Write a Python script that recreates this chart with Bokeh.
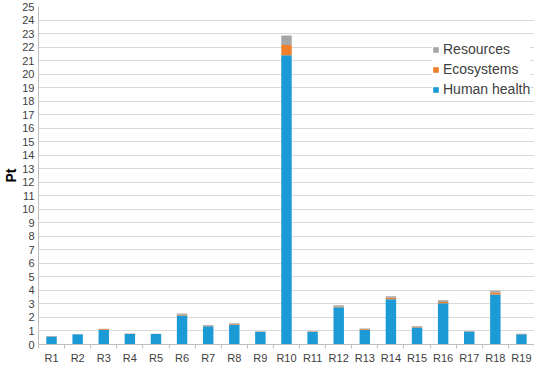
from bokeh.plotting import figure
from bokeh.models import ColumnDataSource, Range1d, FixedTicker, Legend, LegendItem
from bokeh.embed import file_html
from bokeh.resources import INLINE

categories = ["R1", "R2", "R3", "R4", "R5", "R6", "R7", "R8", "R9", "R10",
              "R11", "R12", "R13", "R14", "R15", "R16", "R17", "R18", "R19"]
human_health = [0.60, 0.75, 1.10, 0.78, 0.77, 2.15, 1.35, 1.45, 0.95, 21.40,
                0.93, 2.75, 1.10, 3.35, 1.25, 3.05, 0.97, 3.70, 0.76]
ecosystems = [0.01, 0.01, 0.04, 0.01, 0.01, 0.05, 0.04, 0.04, 0.01, 0.75,
              0.03, 0.06, 0.04, 0.10, 0.05, 0.10, 0.01, 0.15, 0.01]
resources = [0.01, 0.01, 0.03, 0.02, 0.02, 0.10, 0.06, 0.08, 0.02, 0.70,
             0.03, 0.10, 0.04, 0.12, 0.05, 0.12, 0.02, 0.12, 0.02]
y_ticks = list(range(0, 26))

series = ["human_health", "ecosystems", "resources"]
labels = ["Human health", "Ecosystems", "Resources"]
colors = ["#1B9AD6", "#F07F2A", "#A6A6A6"]

xpos = [i + 0.5 for i in range(len(categories))]
source = ColumnDataSource(dict(x=xpos, human_health=human_health,
                               ecosystems=ecosystems, resources=resources))

p = figure(width=534, height=366, output_backend="svg", toolbar_location=None,
           x_range=Range1d(0, len(categories)), y_range=Range1d(0, 25),
           min_border_left=0, min_border_right=0, min_border_top=6, min_border_bottom=20)
p.outline_line_color = None
p.background_fill_color = "white"

renderers = p.vbar_stack(series, x="x", width=0.4, source=source, color=colors,
                         line_color=None)

legend = Legend(items=[LegendItem(label=labels[i], renderers=[renderers[i]]) for i in (2, 1, 0)],
                location=(394, 246))
legend.glyph_width = 7
legend.glyph_height = 7
legend.label_text_font = "Liberation Sans"
legend.label_text_font_size = "14px"
legend.label_text_color = "#404040"
legend.label_height = 18
legend.label_standoff = 4
legend.spacing = 2
legend.padding = 4
legend.margin = 0
legend.border_line_color = None
legend.background_fill_color = "white"
legend.background_fill_alpha = 1.0
p.add_layout(legend)

# x axis
p.xaxis.ticker = FixedTicker(ticks=xpos, minor_ticks=list(range(0, len(categories) + 1)))
p.xaxis.major_label_overrides = {x: c for x, c in zip(xpos, categories)}
p.xaxis.major_tick_out = 0
p.xaxis.major_tick_in = 0
p.xaxis.minor_tick_out = 4
p.xaxis.minor_tick_in = 0
p.xaxis.minor_tick_line_color = "#BFBFBF"
p.xaxis.axis_line_color = "#BFBFBF"
p.xaxis.major_label_text_font = "Liberation Sans"
p.xaxis.major_label_text_font_size = "11px"
p.xaxis.major_label_text_color = "#404040"
p.xaxis.major_label_standoff = 3

# y axis
p.yaxis.ticker = FixedTicker(ticks=y_ticks)
p.yaxis.major_tick_out = 0
p.yaxis.major_tick_in = 0
p.yaxis.minor_tick_line_color = None
p.yaxis.axis_line_color = "#BFBFBF"
p.yaxis.major_label_text_font = "Liberation Sans"
p.yaxis.major_label_text_font_size = "11px"
p.yaxis.major_label_text_color = "#404040"
p.yaxis.major_label_standoff = 4
p.yaxis.axis_label = "Pt"
p.yaxis.axis_label_text_font = "Liberation Sans"
p.yaxis.axis_label_text_font_style = "bold"
p.yaxis.axis_label_text_font_size = "14px"
p.yaxis.axis_label_text_color = "#000000"
p.yaxis.axis_label_standoff = 0

p.xgrid.grid_line_color = None
p.ygrid.grid_line_color = "#D9D9D9"
p.ygrid.grid_line_width = 1

open("out.html", "w").write(file_html(p, INLINE))
